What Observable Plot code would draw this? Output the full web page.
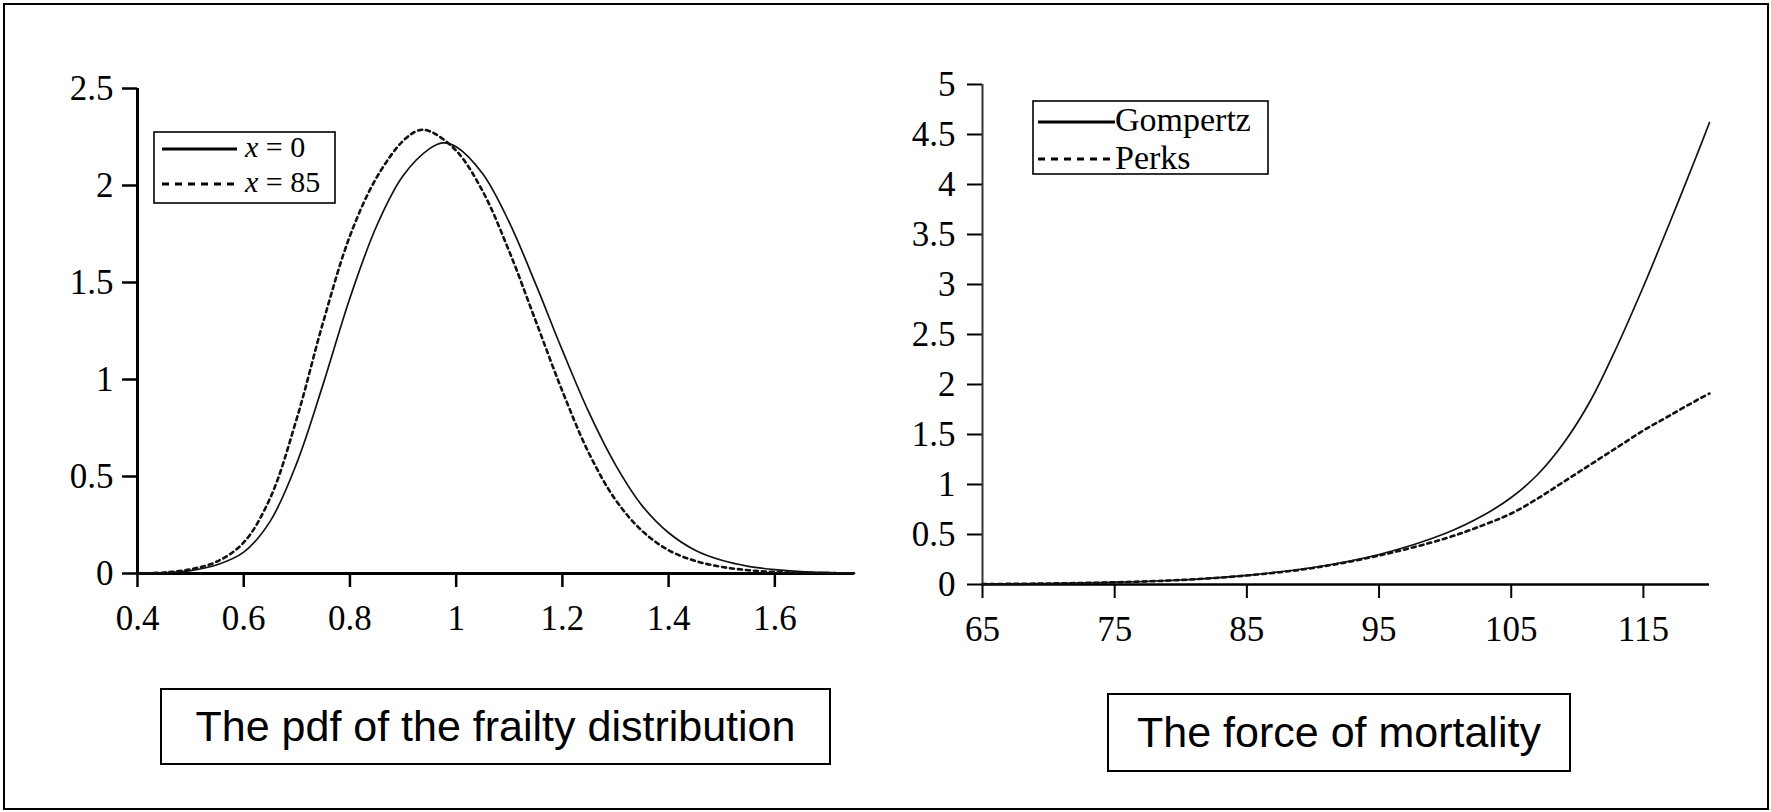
<!DOCTYPE html>
<html>
<head>
<meta charset="utf-8">
<script src="https://cdn.jsdelivr.net/npm/d3@7"></script>
<script src="https://cdn.jsdelivr.net/npm/@observablehq/plot@0.6"></script>
<style>
  html, body { margin: 0; padding: 0; background: #fff; }
  #page { position: relative; width: 1771px; height: 812px; background: #fff; overflow: hidden; }
  #frame { position: absolute; left: 3px; top: 3px; width: 1766px; height: 807px; border: 2px solid #000; box-sizing: border-box; }
  .panel { position: absolute; top: 0; }
  .caption { position: absolute; border: 2px solid #000; box-sizing: border-box; display: flex; align-items: center; justify-content: center;
             font-family: "Liberation Sans", Arial, sans-serif; font-size: 43px; color: #000; background: #fff; }
  .legend { position: absolute; }
</style>
</head>
<body>
<div id="page">
  <div id="frame"></div>
  <div id="left" class="panel" style="left:0px"></div>
  <div id="right" class="panel" style="left:880px"></div>
  <div class="caption" style="left:160px; top:688px; width:671px; height:77px;">The pdf of the frailty distribution</div>
  <div class="caption" style="left:1107px; top:693px; width:464px; height:79px;">The force of mortality</div>
</div>
<script>
// ---- Left panel data: pdf of the frailty distribution ----
const pdfX0  = [0.40,0.45,0.50,0.55,0.60,0.65,0.70,0.75,0.80,0.85,0.90,0.95,0.975,1.00,1.05,1.10,1.15,1.20,1.25,1.30,1.35,1.40,1.45,1.50,1.55,1.60,1.65,1.70,1.75];
const pdfY0  = [0.000,0.003,0.015,0.045,0.110,0.270,0.570,0.980,1.420,1.790,2.050,2.190,2.220,2.200,2.060,1.810,1.490,1.150,0.830,0.560,0.350,0.210,0.120,0.068,0.037,0.020,0.010,0.005,0.002];
const pdfX85 = [0.40,0.45,0.50,0.55,0.60,0.65,0.70,0.75,0.80,0.85,0.90,0.93,0.95,1.00,1.05,1.10,1.15,1.20,1.25,1.30,1.35,1.40,1.45,1.50,1.55,1.60,1.65,1.70,1.75];
const pdfY85 = [0.000,0.005,0.022,0.062,0.160,0.390,0.800,1.300,1.740,2.040,2.230,2.285,2.280,2.180,1.970,1.660,1.300,0.940,0.620,0.380,0.220,0.120,0.065,0.034,0.017,0.008,0.004,0.002,0.001];
const leftXTicks = [0.4,0.6,0.8,1.0,1.2,1.4,1.6];
const leftYTicks = [0,0.5,1,1.5,2,2.5];
const leftLegend = ["x = 0", "x = 85"];

// ---- Right panel data: force of mortality ----
const ages     = [65,70,75,80,85,90,95,100,103,105,107,109,111,113,115,117,119,120];
const gompertz = [0.004,0.010,0.022,0.045,0.092,0.170,0.300,0.510,0.700,0.870,1.100,1.420,1.840,2.380,2.980,3.620,4.280,4.620];
const perks    = [0.004,0.010,0.022,0.045,0.090,0.165,0.290,0.460,0.600,0.710,0.860,1.030,1.200,1.370,1.540,1.690,1.840,1.910];
const rightXTicks = [65,75,85,95,105,115];
const rightYTicks = [0,0.5,1,1.5,2,2.5,3,3.5,4,4.5,5];
const rightLegend = ["Gompertz", "Perks"];

const fmt = d => String(+d.toFixed(2));
const serif = '"Liberation Serif", "Times New Roman", serif';

const leftSolid = pdfX0.map((x, i) => ({x, y: pdfY0[i]}));
const leftDash  = pdfX85.map((x, i) => ({x, y: pdfY85[i]}));

const leftPlot = Plot.plot({
  width: 880, height: 660,
  marginLeft: 137, marginRight: 26, marginTop: 88, marginBottom: 87,
  x: {domain: [0.4, 1.75]},
  y: {domain: [0, 2.5]},
  style: {fontFamily: serif, fontSize: "35px", color: "#000", background: "transparent", overflow: "visible"},
  marks: [
    Plot.axisX({ticks: leftXTicks, tickFormat: fmt, tickSize: 14, tickPadding: 18, strokeWidth: 2.5, label: null}),
    Plot.axisY({ticks: leftYTicks, tickFormat: fmt, tickSize: 15, tickPadding: 9, strokeWidth: 2.5, label: null}),
    Plot.ruleY([0], {x1: 0.4, x2: 1.75, stroke: "#000", strokeWidth: 3}),
    Plot.ruleX([0.4], {y1: 0, y2: 2.5, stroke: "#000", strokeWidth: 3}),
    Plot.line(leftDash, {x: "x", y: "y", curve: "catmull-rom", stroke: "#111", strokeWidth: 2.6, strokeDasharray: "4,4"}),
    Plot.line(leftSolid, {x: "x", y: "y", curve: "catmull-rom", stroke: "#111", strokeWidth: 1.7})
  ]
});
document.getElementById("left").appendChild(leftPlot);

const rightSolid = ages.map((x, i) => ({x, y: gompertz[i]}));
const rightDash  = ages.map((x, i) => ({x, y: perks[i]}));

const rightPlot = Plot.plot({
  width: 891, height: 680,
  marginLeft: 102, marginRight: 62, marginTop: 84, marginBottom: 96,
  x: {domain: [65, 120]},
  y: {domain: [0, 5]},
  style: {fontFamily: serif, fontSize: "35px", color: "#000", background: "transparent", overflow: "visible"},
  marks: [
    Plot.axisX({ticks: rightXTicks, tickFormat: fmt, tickSize: 14, tickPadding: 18, strokeWidth: 2, label: null}),
    Plot.axisY({ticks: rightYTicks, tickFormat: fmt, tickSize: 15, tickPadding: 12, strokeWidth: 2, label: null}),
    Plot.ruleY([0], {x1: 65, x2: 120, stroke: "#000", strokeWidth: 2.6}),
    Plot.ruleX([65], {y1: 0, y2: 5, stroke: "#333", strokeWidth: 2}),
    Plot.line(rightDash, {x: "x", y: "y", curve: "catmull-rom", stroke: "#111", strokeWidth: 2.6, strokeDasharray: "4,4"}),
    Plot.line(rightSolid, {x: "x", y: "y", curve: "catmull-rom", stroke: "#111", strokeWidth: 1.7})
  ]
});
document.getElementById("right").appendChild(rightPlot);

// ---- Legends (SVG overlays) ----
const NS = "http://www.w3.org/2000/svg";
function legendBox(left, top, w, h, rows, opts) {
  const svg = document.createElementNS(NS, "svg");
  svg.setAttribute("width", w); svg.setAttribute("height", h);
  svg.setAttribute("class", "legend");
  svg.style.left = left + "px"; svg.style.top = top + "px";
  const rect = document.createElementNS(NS, "rect");
  rect.setAttribute("x", 1); rect.setAttribute("y", 1);
  rect.setAttribute("width", w - 2); rect.setAttribute("height", h - 2);
  rect.setAttribute("fill", "#fff"); rect.setAttribute("stroke", "#000"); rect.setAttribute("stroke-width", 1.6);
  svg.appendChild(rect);
  rows.forEach((r, i) => {
    const line = document.createElementNS(NS, "line");
    line.setAttribute("x1", opts.lx1); line.setAttribute("x2", opts.lx2);
    line.setAttribute("y1", opts.ly[i]); line.setAttribute("y2", opts.ly[i]);
    line.setAttribute("stroke", "#000"); line.setAttribute("stroke-width", 3);
    if (r.dashed) line.setAttribute("stroke-dasharray", "7,6");
    svg.appendChild(line);
    const t = document.createElementNS(NS, "text");
    t.setAttribute("x", opts.tx); t.setAttribute("y", opts.ty[i]);
    t.setAttribute("font-family", serif); t.setAttribute("font-size", opts.fs);
    t.setAttribute("fill", "#000");
    if (r.italicFirst) {
      const a = document.createElementNS(NS, "tspan");
      a.setAttribute("font-style", "italic"); a.textContent = r.label.slice(0, 1);
      const b = document.createElementNS(NS, "tspan");
      b.textContent = r.label.slice(1);
      t.appendChild(a); t.appendChild(b);
    } else {
      t.textContent = r.label;
    }
    svg.appendChild(t);
  });
  document.getElementById("page").appendChild(svg);
}

legendBox(153, 131, 183, 73,
  [{label: leftLegend[0], dashed: false, italicFirst: true}, {label: leftLegend[1], dashed: true, italicFirst: true}],
  {lx1: 9, lx2: 84, ly: [18, 53], tx: 92, ty: [26, 61], fs: 30});

legendBox(1032, 100, 237, 75,
  [{label: rightLegend[0], dashed: false}, {label: rightLegend[1], dashed: true}],
  {lx1: 6, lx2: 83, ly: [22, 59], tx: 83, ty: [31, 69], fs: 34});
</script>
</body>
</html>
